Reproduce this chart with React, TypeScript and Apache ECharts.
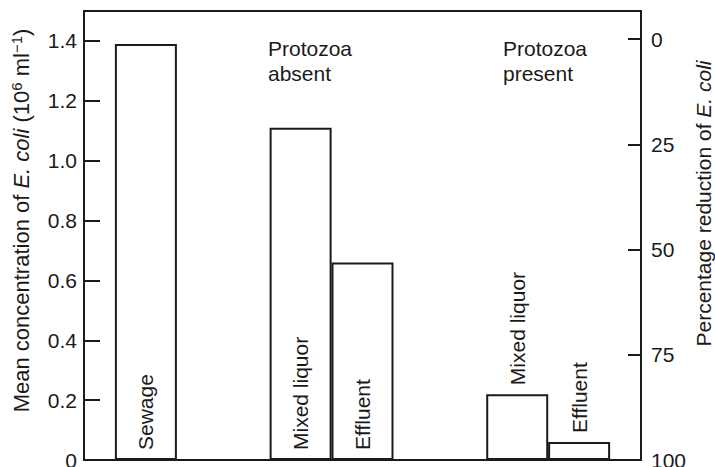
import React, { useEffect, useRef } from 'react';
import * as echarts from 'echarts';

const barLabels = ['Sewage', 'Mixed liquor', 'Effluent', 'Mixed liquor', 'Effluent'];
const barPositions = [2, 7, 9, 14, 16];
const concentrations = [1.39, 1.11, 0.66, 0.22, 0.06];
const labelAboveBar = [false, false, false, true, true];
const groupLabels = ['Protozoa\nabsent', 'Protozoa\npresent'];
const concentrationTicks = [0, 0.2, 0.4, 0.6, 0.8, 1.0, 1.2, 1.4];
const reductionTicks = [0, 25, 50, 75, 100];

const FONT = '"Liberation Sans", Arial, Helvetica, sans-serif';
const INK = '#1a1a1a';

export default function App() {
  const ref = useRef<HTMLDivElement>(null);
  useEffect(() => {
    document.body.style.margin = '0';
    if (!ref.current) return;
    const chart = echarts.init(ref.current, null, { renderer: 'svg' });
    const axisLine = { show: true, lineStyle: { color: INK, width: 2 } };
    chart.setOption({
      animation: false,
      backgroundColor: '#fff',
      textStyle: { fontFamily: FONT, color: INK },
      grid: {
        left: 84, right: 74, top: 11, bottom: 7,
        containLabel: false, outerBoundsMode: 'none',
        show: true, borderColor: INK, borderWidth: 2, backgroundColor: 'transparent',
      },
      xAxis: {
        type: 'value', min: 0, max: 18,
        axisLine, axisTick: { show: false }, axisLabel: { show: false }, splitLine: { show: false },
      },
      yAxis: [
        {
          type: 'value', position: 'left', min: 0, max: 1.5,
          axisLine, splitLine: { show: false },
          axisTick: { show: true, inside: true, length: 16, lineStyle: { color: INK, width: 2 }, customValues: concentrationTicks },
          axisLabel: {
            show: true, margin: 7, fontSize: 21, color: INK, fontFamily: FONT,
            customValues: concentrationTicks,
            formatter: (v: number) => (v === 0 ? '0' : v.toFixed(1)),
          },
          name: '{n|Mean concentration of }{i|E. coli}{n| (10}{s|6}{n| ml}{s|\u22121}{n|)}',
          nameLocation: 'middle', nameRotate: 90, nameGap: 50, nameMoveOverlap: false,
          nameTextStyle: {
            padding: [0, 0, 0, 30],
            rich: {
              n: { fontSize: 22, fontFamily: FONT, color: INK, lineHeight: 25 },
              i: { fontSize: 22, fontFamily: FONT, color: INK, fontStyle: 'italic', lineHeight: 25 },
              s: { fontSize: 15, fontFamily: FONT, color: INK, lineHeight: 15, verticalAlign: 'top' },
            },
          },
        },
        {
          type: 'value', position: 'right', inverse: true, min: -6.7, max: 100,
          axisLine, splitLine: { show: false },
          axisTick: { show: true, inside: true, length: 13, lineStyle: { color: INK, width: 2 }, customValues: reductionTicks },
          axisLabel: { show: true, margin: 10, fontSize: 21, color: INK, fontFamily: FONT, customValues: reductionTicks },
          name: '{n|Percentage reduction of }{i|E. coli}',
          nameLocation: 'middle', nameRotate: 90, nameGap: 50, nameMoveOverlap: false,
          nameTextStyle: {
            padding: [0, 0, 0, 64],
            rich: {
              n: { fontSize: 21, fontFamily: FONT, color: INK, lineHeight: 24 },
              i: { fontSize: 21, fontFamily: FONT, color: INK, fontStyle: 'italic', lineHeight: 24 },
            },
          },
        },
      ],
      graphic: [
        { type: 'text', left: 268, top: 36, style: { text: groupLabels[0], font: `21px ${FONT}`, fill: INK, lineHeight: 25 } },
        { type: 'text', left: 503, top: 36, style: { text: groupLabels[1], font: `21px ${FONT}`, fill: INK, lineHeight: 25 } },
      ],
      series: [
        {
          type: 'bar',
          barWidth: 62,
          yAxisIndex: 0,
          itemStyle: { color: '#fff', borderColor: INK, borderWidth: 2 },
          data: barPositions.map((x, i) => ({
            value: [x, concentrations[i]],
            label: {
              show: true,
              formatter: barLabels[i],
              position: labelAboveBar[i] ? 'top' : 'insideBottom',
              distance: labelAboveBar[i] ? 9 : 10,
              rotate: 90,
              align: 'left',
              verticalAlign: 'middle',
              fontSize: 21,
              fontFamily: FONT,
              color: INK,
            },
          })),
        },
      ],
    });
    return () => chart.dispose();
  }, []);
  return <div ref={ref} style={{ width: 715, height: 467 }} />;
}
